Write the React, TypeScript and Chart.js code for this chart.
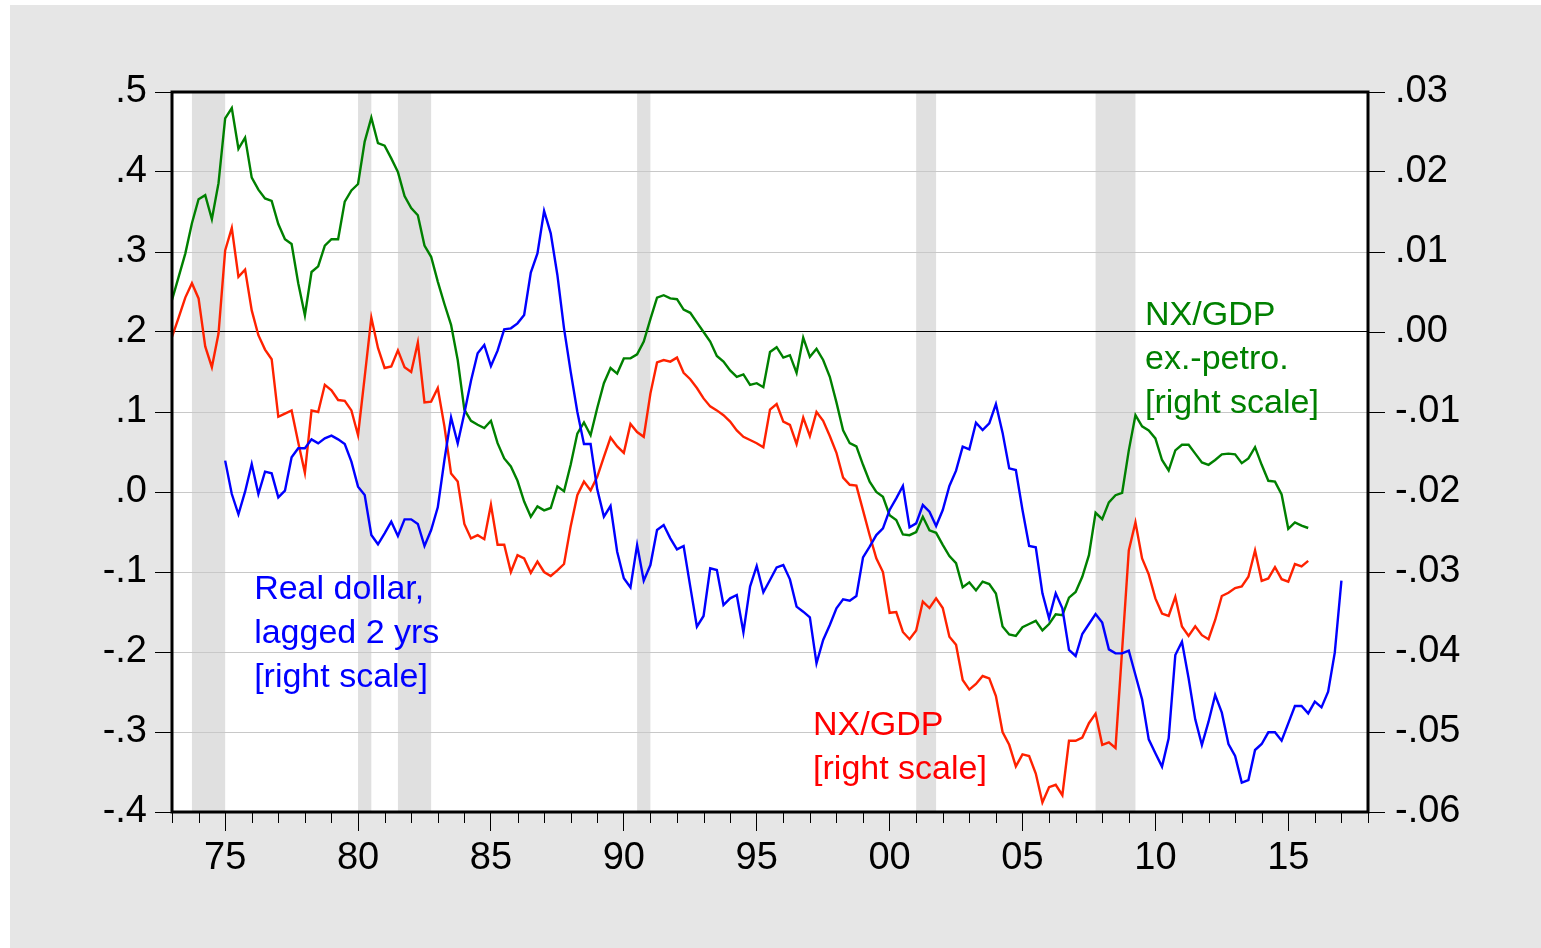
import React, { useEffect, useRef } from 'react';
import { Chart, registerables } from 'chart.js';

Chart.register(...registerables);

// Quarterly data. NX/GDP series start 1973Q1; real dollar (lagged 2 yrs) starts 1975Q1.
const nxStartYear = 1973;
const dollarStartYear = 1975;

// NX/GDP [right scale]
const nxGdp = [
  -0.0006, 0.0018, 0.0043, 0.0061, 0.0042, -0.0018, -0.0044, -0.0002, 0.0102, 0.0130,
  0.0069, 0.0078, 0.0027, -0.0004, -0.0022, -0.0034, -0.0106, -0.0102, -0.0098, -0.0138,
  -0.0176, -0.0098, -0.0100, -0.0066, -0.0073, -0.0085, -0.0086, -0.0098, -0.0129, -0.0056,
  0.0018, -0.0020, -0.0045, -0.0043, -0.0023, -0.0044, -0.0050, -0.0013, -0.0088, -0.0087,
  -0.0070, -0.0118, -0.0177, -0.0187, -0.0240, -0.0258, -0.0254, -0.0259, -0.0216, -0.0266,
  -0.0266, -0.0300, -0.0279, -0.0283, -0.0301, -0.0287, -0.0300, -0.0305, -0.0298, -0.0290,
  -0.0243, -0.0204, -0.0187, -0.0198, -0.0181, -0.0156, -0.0132, -0.0143, -0.0151, -0.0115,
  -0.0125, -0.0131, -0.0077, -0.0038, -0.0035, -0.0037, -0.0032, -0.0051, -0.0059, -0.0070,
  -0.0083, -0.0093, -0.0098, -0.0104, -0.0112, -0.0123, -0.0131, -0.0135, -0.0139, -0.0144,
  -0.0097, -0.0090, -0.0112, -0.0116, -0.0140, -0.0107, -0.0130, -0.0100, -0.0111, -0.0130,
  -0.0151, -0.0182, -0.0191, -0.0192, -0.0223, -0.0254, -0.0283, -0.0300, -0.0351, -0.0350,
  -0.0375, -0.0384, -0.0373, -0.0337, -0.0345, -0.0333, -0.0345, -0.0381, -0.0391, -0.0435,
  -0.0447, -0.0440, -0.0430, -0.0433, -0.0455, -0.0500, -0.0516, -0.0543, -0.0528, -0.0530,
  -0.0552, -0.0588, -0.0569, -0.0566, -0.0579, -0.0511, -0.0511, -0.0507, -0.0489, -0.0477,
  -0.0516, -0.0513, -0.0520, -0.0397, -0.0273, -0.0238, -0.0283, -0.0303, -0.0333, -0.0352,
  -0.0355, -0.0331, -0.0368, -0.0380, -0.0368, -0.0379, -0.0384, -0.0360, -0.0330, -0.0326,
  -0.0320, -0.0318, -0.0306, -0.0273, -0.0311, -0.0308, -0.0294, -0.0309, -0.0312, -0.0290,
  -0.0293, -0.0286,
];

// NX/GDP ex.-petro. [right scale]
const nxGdpExPetro = [
  0.0040, 0.0069, 0.0098, 0.0136, 0.0166, 0.0171, 0.0141, 0.0186, 0.0267, 0.0280,
  0.0229, 0.0243, 0.0193, 0.0178, 0.0167, 0.0164, 0.0135, 0.0116, 0.0110, 0.0061,
  0.0021, 0.0075, 0.0082, 0.0108, 0.0116, 0.0116, 0.0163, 0.0177, 0.0185, 0.0238,
  0.0268, 0.0236, 0.0233, 0.0217, 0.0200, 0.0170, 0.0155, 0.0146, 0.0108, 0.0094,
  0.0063, 0.0035, 0.0009, -0.0035, -0.0097, -0.0111, -0.0116, -0.0120, -0.0111, -0.0139,
  -0.0158, -0.0168, -0.0186, -0.0212, -0.0231, -0.0218, -0.0223, -0.0220, -0.0193, -0.0199,
  -0.0166, -0.0127, -0.0113, -0.0129, -0.0095, -0.0064, -0.0045, -0.0052, -0.0033, -0.0033,
  -0.0028, -0.0012, 0.0016, 0.0043, 0.0046, 0.0042, 0.0041, 0.0028, 0.0024, 0.0012,
  0.0000, -0.0012, -0.0030, -0.0037, -0.0048, -0.0056, -0.0053, -0.0066, -0.0064, -0.0069,
  -0.0025, -0.0019, -0.0032, -0.0029, -0.0051, -0.0007, -0.0031, -0.0021, -0.0035, -0.0056,
  -0.0088, -0.0123, -0.0139, -0.0143, -0.0166, -0.0187, -0.0200, -0.0206, -0.0229, -0.0235,
  -0.0253, -0.0254, -0.0250, -0.0231, -0.0248, -0.0251, -0.0266, -0.0280, -0.0289, -0.0319,
  -0.0313, -0.0323, -0.0312, -0.0315, -0.0327, -0.0368, -0.0378, -0.0380, -0.0369, -0.0365,
  -0.0361, -0.0373, -0.0365, -0.0353, -0.0354, -0.0332, -0.0325, -0.0306, -0.0279, -0.0226,
  -0.0234, -0.0213, -0.0204, -0.0201, -0.0148, -0.0104, -0.0118, -0.0123, -0.0133, -0.0160,
  -0.0173, -0.0148, -0.0141, -0.0141, -0.0152, -0.0163, -0.0166, -0.0160, -0.0153, -0.0152,
  -0.0153, -0.0164, -0.0158, -0.0144, -0.0166, -0.0186, -0.0187, -0.0203, -0.0246, -0.0238,
  -0.0242, -0.0245,
];

// Real dollar, lagged 2 yrs [left scale]
const realDollarLagged = [
  0.0392, -0.0025, -0.0279, 0.0004, 0.0350, -0.0025, 0.0254, 0.0233, -0.0067, 0.0017,
  0.0433, 0.0546, 0.0546, 0.0658, 0.0608, 0.0671, 0.0704, 0.0658, 0.0600, 0.0379,
  0.0067, -0.0038, -0.0538, -0.0654, -0.0517, -0.0371, -0.0550, -0.0342, -0.0342, -0.0400,
  -0.0675, -0.0475, -0.0192, 0.0400, 0.0933, 0.0608, 0.0983, 0.1390, 0.1735, 0.1838,
  0.1575, 0.1767, 0.2033, 0.2046, 0.2108, 0.2213, 0.2742, 0.2983, 0.3513, 0.3233,
  0.2713, 0.2046, 0.1504, 0.1004, 0.0600, 0.0600, 0.0033, -0.0308, -0.0175, -0.0746,
  -0.1079, -0.1192, -0.0663, -0.1108, -0.0913, -0.0475, -0.0413, -0.0579, -0.0717, -0.0675,
  -0.1183, -0.1683, -0.1550, -0.0954, -0.0975, -0.1413, -0.1329, -0.1288, -0.1754, -0.1183,
  -0.0925, -0.1254, -0.1100, -0.0942, -0.0913, -0.1092, -0.1433, -0.1496, -0.1567, -0.2142,
  -0.1850, -0.1663, -0.1454, -0.1342, -0.1358, -0.1300, -0.0817, -0.0683, -0.0538, -0.0454,
  -0.0225, -0.0079, 0.0075, -0.0442, -0.0392, -0.0163, -0.0246, -0.0425, -0.0225, 0.0075,
  0.0267, 0.0567, 0.0533, 0.0867, 0.0775, 0.0858, 0.1100, 0.0742, 0.0296, 0.0275,
  -0.0225, -0.0675, -0.0692, -0.1267, -0.1579, -0.1267, -0.1454, -0.1975, -0.2050, -0.1775,
  -0.1650, -0.1525, -0.1633, -0.1967, -0.2017, -0.2017, -0.1983, -0.2288, -0.2592, -0.3092,
  -0.3267, -0.3433, -0.3079, -0.2038, -0.1871, -0.2329, -0.2842, -0.3163, -0.2871, -0.2538,
  -0.2758, -0.3150, -0.3300, -0.3633, -0.3600, -0.3225, -0.3150, -0.3004, -0.3004, -0.3108,
  -0.2892, -0.2675, -0.2675, -0.2767, -0.2621, -0.2692, -0.2496, -0.2008, -0.1108,
];

// NBER recessions (start, end) in fractional years
const recessionStarts = [1973.75, 1980.0, 1981.5, 1990.5, 2001.0, 2007.75];
const recessionEnds = [1975.0, 1980.5, 1982.75, 1991.0, 2001.75, 2009.25];

// Axis ranges
const xMin = 1973;
const xMax = 2018;
const leftMin = -0.4;
const leftMax = 0.5;
const rightMin = -0.06;
const rightMax = 0.03;

// In-chart labels (anchored in data coordinates: year, left-scale value of first baseline)
const labelTexts = [
  ['Real dollar,', 'lagged 2 yrs', '[right scale]'],
  ['NX/GDP', '[right scale]'],
  ['NX/GDP', 'ex.-petro.', '[right scale]'],
];
const labelColors = ['#0000ff', '#ff0000', '#008000'];
const labelYears = [1976.09, 1997.12, 2009.61];
const labelValues = [-0.1338, -0.3038, 0.2088];
const labelLineStep = 0.055;

const FONT = "'Liberation Sans', Arial, Helvetica, sans-serif";

function fmt(v: number, d: number): string {
  if (Math.abs(v) < 1e-9) v = 0;
  let s = v.toFixed(d);
  if (s.startsWith('-0')) s = '-' + s.slice(2);
  else if (s.startsWith('0')) s = s.slice(1);
  return s;
}

const decorPlugin = {
  id: 'decor',
  beforeDraw(chart: any) {
    const { ctx, chartArea: a, scales } = chart;
    ctx.save();
    ctx.fillStyle = '#ffffff';
    ctx.fillRect(a.left, a.top, a.right - a.left, a.bottom - a.top);
    ctx.fillStyle = '#e0e0e0';
    for (let i = 0; i < recessionStarts.length; i++) {
      const x1 = scales.x.getPixelForValue(recessionStarts[i]);
      const x2 = scales.x.getPixelForValue(recessionEnds[i]);
      ctx.fillRect(x1, a.top, x2 - x1, a.bottom - a.top);
    }
    ctx.restore();
  },
  afterDatasetsDraw(chart: any) {
    const { ctx, scales } = chart;
    ctx.save();
    ctx.font = `34px ${FONT}`;
    ctx.textAlign = 'left';
    ctx.textBaseline = 'alphabetic';
    labelTexts.forEach((lines, i) => {
      ctx.fillStyle = labelColors[i];
      const x = scales.x.getPixelForValue(labelYears[i]);
      lines.forEach((line, j) => {
        const y = scales.y.getPixelForValue(labelValues[i] - j * labelLineStep);
        ctx.fillText(line, x, y);
      });
    });
    ctx.restore();
  },
  afterDraw(chart: any) {
    const { ctx, chartArea: a, scales } = chart;
    ctx.save();
    // minor year ticks
    ctx.strokeStyle = '#000';
    ctx.lineWidth = 1;
    ctx.beginPath();
    for (let yr = xMin; yr <= xMax; yr++) {
      if (yr % 5 === 0) continue;
      const px = Math.round(scales.x.getPixelForValue(yr)) + 0.5;
      ctx.moveTo(px, a.bottom);
      ctx.lineTo(px, a.bottom + 11);
    }
    ctx.stroke();
    // frame
    ctx.lineWidth = 3;
    ctx.strokeRect(a.left, a.top, a.right - a.left, a.bottom - a.top);
    ctx.restore();
  },
};

export default function App() {
  const canvasRef = useRef<HTMLCanvasElement | null>(null);

  useEffect(() => {
    if (!canvasRef.current) return;
    const blueData = realDollarLagged.map((v, i) => ({ x: dollarStartYear + i / 4, y: v }));
    const redData = nxGdp.map((v, i) => ({ x: nxStartYear + i / 4, y: v }));
    const greenData = nxGdpExPetro.map((v, i) => ({ x: nxStartYear + i / 4, y: v }));

    const tickFont = { family: FONT, size: 38 };

    const chart = new Chart(canvasRef.current, {
      type: 'line',
      data: {
        datasets: [
          {
            label: 'Real dollar, lagged 2 yrs',
            data: blueData,
            yAxisID: 'y',
            borderColor: '#0000ff',
            borderWidth: 2.4,
            pointRadius: 0,
            tension: 0,
            fill: false,
          },
          {
            label: 'NX/GDP',
            data: redData,
            yAxisID: 'y1',
            borderColor: '#ff2200',
            borderWidth: 2.4,
            pointRadius: 0,
            tension: 0,
            fill: false,
          },
          {
            label: 'NX/GDP ex.-petro.',
            data: greenData,
            yAxisID: 'y1',
            borderColor: '#008000',
            borderWidth: 2.4,
            pointRadius: 0,
            tension: 0,
            fill: false,
          },
        ],
      },
      options: {
        animation: false,
        responsive: true,
        maintainAspectRatio: false,
        layout: { padding: { top: 87, left: 0, right: 0, bottom: 0 } },
        plugins: {
          legend: { display: false },
          tooltip: { enabled: false },
        },
        scales: {
          x: {
            type: 'linear',
            min: xMin,
            max: xMax,
            border: { display: false },
            grid: {
              drawOnChartArea: false,
              drawTicks: true,
              tickLength: 19,
              tickWidth: 1,
              tickColor: (c: any) =>
                c.tick && Math.round(c.tick.value) % 5 === 0 ? '#000' : 'rgba(0,0,0,0)',
            },
            ticks: {
              stepSize: 1,
              autoSkip: false,
              maxRotation: 0,
              minRotation: 0,
              padding: 5,
              color: '#000',
              font: tickFont,
              callback: (v: any) => {
                const n = Math.round(Number(v));
                return n % 5 === 0 ? String(n % 100).padStart(2, '0') : '';
              },
            },
            afterFit: (s: any) => {
              s.height = 136;
              s.paddingLeft = 0;
              s.paddingRight = 0;
            },
          },
          y: {
            type: 'linear',
            position: 'left',
            min: leftMin,
            max: leftMax,
            border: { display: false },
            grid: {
              color: (c: any) =>
                c.tick && Math.abs(c.tick.value - 0.2) < 1e-9 ? '#000000' : '#c8c8c8',
              lineWidth: 1,
              drawTicks: true,
              tickLength: 17,
              tickColor: '#000',
              tickWidth: 1,
            },
            ticks: {
              stepSize: 0.1,
              padding: 8,
              color: '#000',
              font: tickFont,
              callback: (v: any) => fmt(Number(v), 1),
            },
            afterFit: (s: any) => {
              s.width = 162;
              s.paddingTop = 0;
              s.paddingBottom = 0;
            },
          },
          y1: {
            type: 'linear',
            position: 'right',
            min: rightMin,
            max: rightMax,
            border: { display: false },
            grid: {
              drawOnChartArea: false,
              drawTicks: true,
              tickLength: 17,
              tickColor: '#000',
              tickWidth: 1,
            },
            ticks: {
              stepSize: 0.01,
              padding: 10,
              color: '#000',
              font: tickFont,
              callback: (v: any) => fmt(Number(v), 2),
            },
            afterFit: (s: any) => {
              s.width = 173;
              s.paddingTop = 0;
              s.paddingBottom = 0;
            },
          },
        },
      },
      plugins: [decorPlugin],
    } as any);

    return () => {
      chart.destroy();
    };
  }, []);

  return (
    <div
      style={{
        position: 'absolute',
        left: 10,
        top: 5,
        width: 1531,
        height: 943,
        background: '#e6e6e6',
      }}
    >
      <canvas ref={canvasRef} />
    </div>
  );
}
